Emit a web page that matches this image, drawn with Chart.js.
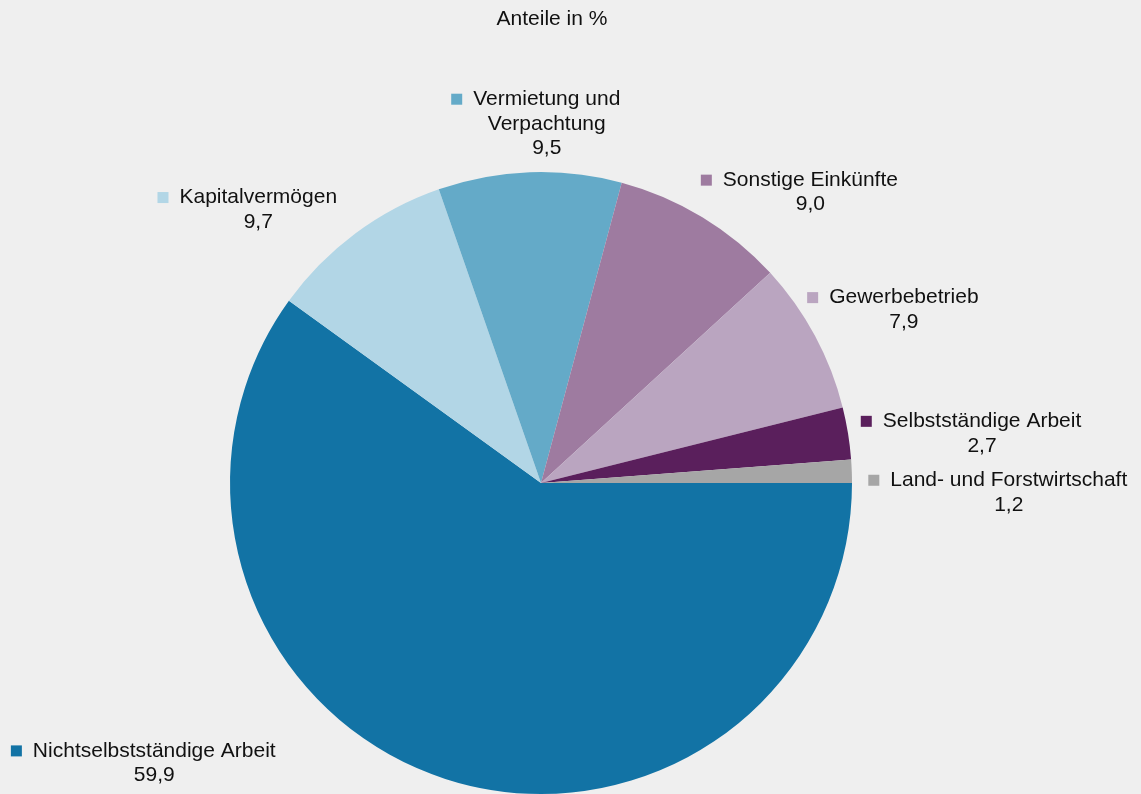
<!DOCTYPE html>
<html>
<head>
<meta charset="utf-8">
<script src="https://cdn.jsdelivr.net/npm/chart.js@4"></script>
<style>
  html, body { margin: 0; padding: 0; background: #efefef; }
  #wrap { width: 1141px; height: 794px; position: relative; }
</style>
</head>
<body>
<div id="wrap"><canvas id="pieChart"></canvas></div>
<script>
// Data
const categories = [
    'Nichtselbstständige Arbeit',
    'Kapitalvermögen',
    'Vermietung und\nVerpachtung',
    'Sonstige Einkünfte',
    'Gewerbebetrieb',
    'Selbstständige Arbeit',
    'Land- und Forstwirtschaft'
];
const shares = [59.9, 9.7, 9.5, 9.0, 7.9, 2.7, 1.2];
const sliceColors = ['#1273a5', '#b2d6e6', '#64aac8', '#9e7ba0', '#baa5c0', '#5a1f5c', '#a6a6a6'];

// Label nudges from the slice's outer mid point (text centre x, first line y)
const labelNudge = [[-291, -28], [-97, -36], [17, -73], [108, -37], [89, -38], [134, -12], [157, 9]];

const FONT = '21px "Liberation Sans", Arial, sans-serif';

const labelPlugin = {
    id: 'outerLabels',
    afterDraw(chart) {
        const ctx = chart.ctx;
        ctx.save();
        ctx.font = FONT;
        ctx.fillStyle = '#111';
        ctx.textBaseline = 'middle';
        ctx.textAlign = 'center';

        // title
        ctx.fillText('Anteile in %', 552, 19);

        const arcs = chart.getDatasetMeta(0).data;
        arcs.forEach((arc, i) => {
            const mid = (arc.startAngle + arc.endAngle) / 2;
            const ax = arc.x + Math.cos(mid) * arc.outerRadius;
            const ay = arc.y + Math.sin(mid) * arc.outerRadius;
            const cx = ax + labelNudge[i][0];
            const cy = ay + labelNudge[i][1];

            const lines = categories[i].split('\n');
            lines.push(shares[i].toFixed(1).replace('.', ','));
            const lh = 24.5;

            lines.forEach((line, j) => {
                ctx.fillText(line, cx, cy + j * lh);
            });

            // colour marker next to first line
            const w0 = ctx.measureText(lines[0]).width;
            ctx.fillStyle = sliceColors[i];
            ctx.fillRect(cx - w0 / 2 - 22, cy - 5.5, 11, 11);
            ctx.fillStyle = '#111';
        });
        ctx.restore();
    }
};

new Chart(document.getElementById('pieChart'), {
    type: 'pie',
    data: {
        labels: categories,
        datasets: [{
            data: shares,
            backgroundColor: sliceColors,
            borderWidth: 0
        }]
    },
    options: {
        responsive: true,
        maintainAspectRatio: false,
        animation: false,
        rotation: 90,
        layout: { padding: { top: 172, left: 230, right: 289, bottom: 0 } },
        plugins: {
            legend: { display: false },
            title: { display: false },
            tooltip: { enabled: false }
        }
    },
    plugins: [labelPlugin]
});
</script>
</body>
</html>
